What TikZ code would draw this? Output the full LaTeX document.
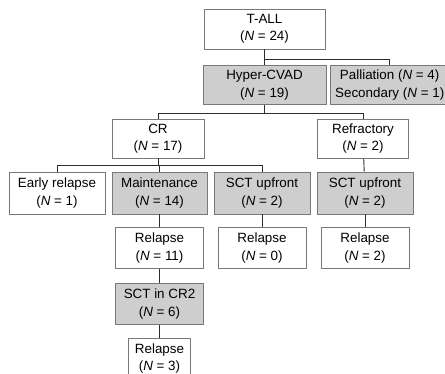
\documentclass[tikz,border=0pt]{standalone}
\usepackage{fontspec}
\setmainfont{Liberation Sans}
\usepackage{xcolor}
\usepackage{tikz}
\usetikzlibrary{positioning,calc}
\definecolor{cShade}{RGB}{206,206,206}
\definecolor{cEdge}{RGB}{120,120,120}
\definecolor{cLine}{RGB}{45,45,45}
\tikzset{
  box/.style={draw=cEdge, fill=white, line width=0.7pt, minimum height=40pt,
              align=center, inner sep=2pt,
              font=\fontsize{13.4}{17.5}\selectfont},
  boxg/.style={box, fill=cShade},
  link/.style={draw=cLine, line width=0.9pt},
}
\newcommand{\cnt}[1]{(\textit{N} = #1)}

\begin{document}
\begin{tikzpicture}[x=1pt, y=-1pt]
  \useasboundingbox (0,0) rectangle (445,374);

  \node[box, minimum width=121pt] (tall) at (264.5,29) {T-ALL\\ \cnt{24}};
  \node[boxg, minimum width=123pt, minimum height=39pt, below=16pt of tall] (hyper) {Hyper-CVAD\\ \cnt{19}};
  \node[boxg, minimum width=118pt, minimum height=39pt, right=4pt of hyper] (pall) {Palliation \cnt{4}\\ Secondary \cnt{1}};

  \node[box, minimum width=92pt, minimum height=39pt] (cr)   at (158,138.5) {CR\\ \cnt{17}};
  \node[box, minimum width=91pt, minimum height=39pt] (refr) at (363,138.5) {Refractory\\ \cnt{2}};

  \node[box,  minimum width=96pt, minimum height=42pt] (early) at (57,193)    {Early relapse\\ \cnt{1}};
  \node[boxg, minimum width=95pt, minimum height=42pt] (maint) at (159.5,193) {Maintenance\\ \cnt{14}};
  \node[boxg, minimum width=96pt, minimum height=42pt] (sctA)  at (262,193)   {SCT upfront\\ \cnt{2}};
  \node[boxg, minimum width=96pt, minimum height=42pt] (sctB)  at (365,193)   {SCT upfront\\ \cnt{2}};

  \node[box, minimum width=88pt, minimum height=41pt, below=13pt of maint] (relA) {Relapse\\ \cnt{11}};
  \node[box, minimum width=88pt, minimum height=41pt, below=13pt of sctA]  (relB) {Relapse\\ \cnt{0}};
  \node[box, minimum width=88pt, minimum height=41pt, below=13pt of sctB]  (relC) {Relapse\\ \cnt{2}};

  \node[boxg, minimum width=88pt, minimum height=41pt, below=14pt of relA] (crtwo) {SCT in CR2\\ \cnt{6}};
  \node[box,  minimum width=62pt, minimum height=41pt, below=13pt of crtwo] (relD) {Relapse\\ \cnt{3}};

  % tree links
  \draw[link] (tall) -- (hyper);
  \draw[link] (tall.south) -- ++(0,10) -| (pall);
  \draw[link] (hyper.south) -- ++(0,8) coordinate (hb);
  \draw[link] (hb) -| (cr);
  \draw[link] (hb) -| (refr);
  \draw[link] (cr.south) -- ++(0,7) coordinate (cb);
  \draw[link] (cb) -| (early);
  \draw[link] (cb) -| (maint);
  \draw[link] (cb) -| (sctA);
  \draw[link] (refr) -- (sctB);
  \draw[link] (maint) -- (relA);
  \draw[link] (sctA) -- (relB);
  \draw[link] (sctB) -- (relC);
  \draw[link] (relA) -- (crtwo);
  \draw[link] (crtwo) -- (relD);
\end{tikzpicture}
\end{document}
